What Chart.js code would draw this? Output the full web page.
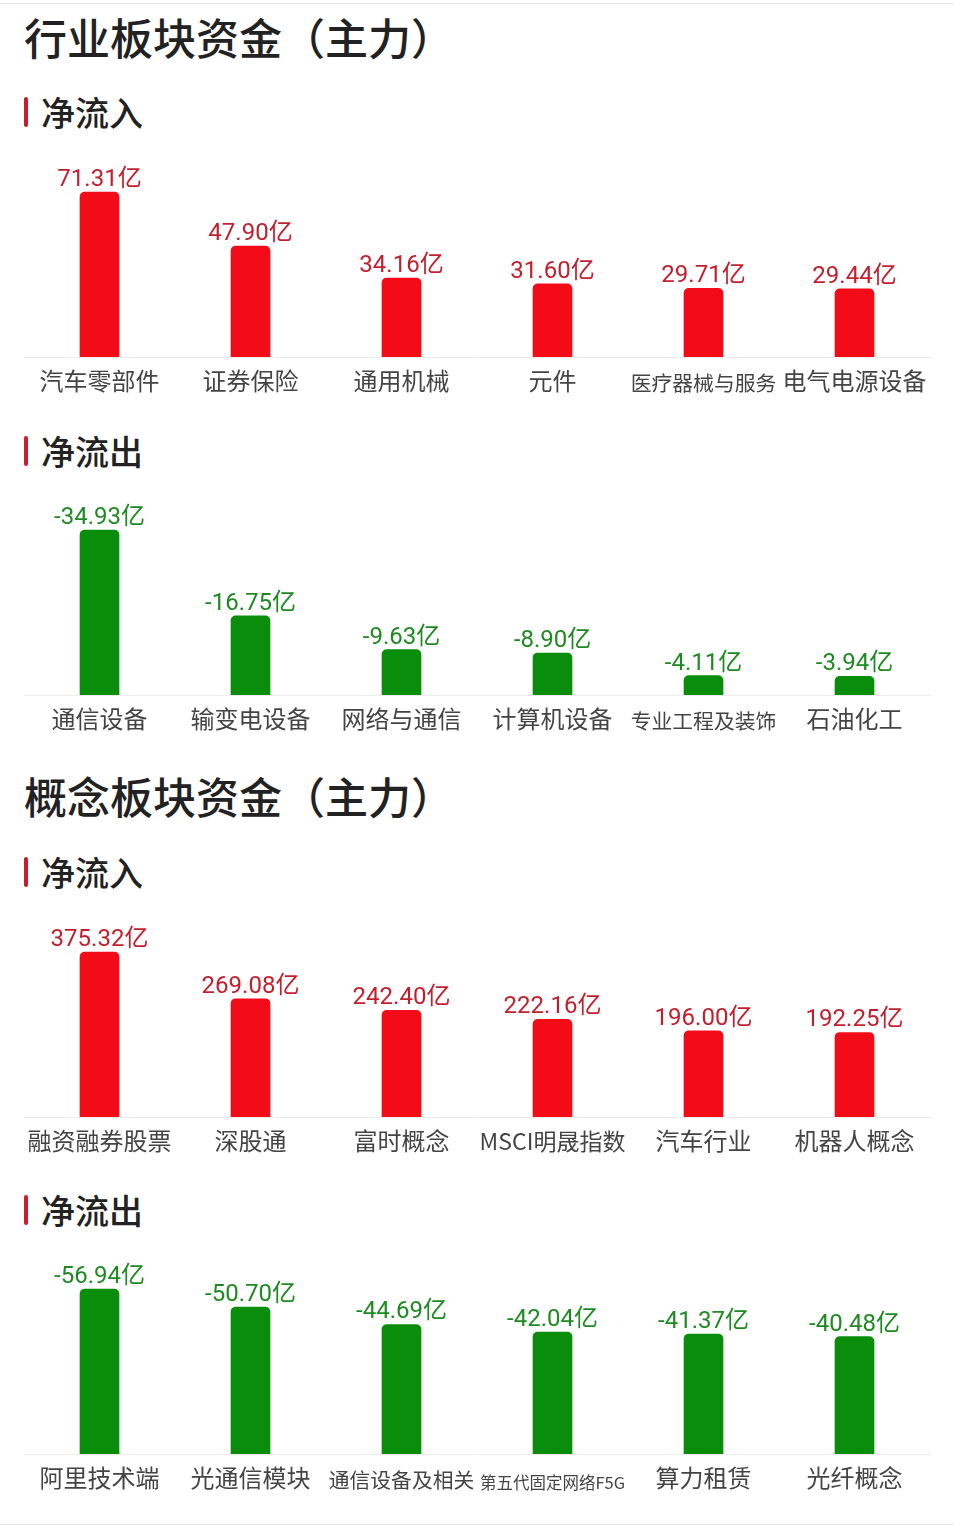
<!DOCTYPE html>
<html>
<head>
<meta charset="utf-8">
<script src="https://cdn.jsdelivr.net/npm/chart.js@4.4.1/dist/chart.umd.min.js"></script>
<style>
  body { margin: 0; width: 954px; height: 1532px; background: #fff; overflow: hidden; position: relative;
         font-family: "Noto Sans CJK SC", sans-serif; color: #222; }
  .line { position: absolute; left: 0; width: 954px; height: 1px; background: #e6e6e6; }
  .title { position: absolute; left: 24px; font-size: 43px; line-height: 52px; font-weight: 500; margin: 0; white-space: nowrap; }
  .sub { position: absolute; left: 24px; height: 36px; }
  .sub i { position: absolute; left: 0; top: 3px; width: 4px; height: 30px; background: #d3192b; border-radius: 2px; }
  .sub span { position: absolute; left: 17px; top: -1px; font-size: 34px; line-height: 38px; font-weight: 500; white-space: nowrap; }
  .box { position: absolute; left: 0; width: 954px; height: 260px; }
</style>
</head>
<body>
<div class="line" style="top:3px"></div>
<h1 class="title" style="top:10px">行业板块资金（主力）</h1>
<div class="sub" style="top:94px"><i></i><span>净流入</span></div>
<div class="box" style="top:142px"><canvas id="c1"></canvas></div>
<div class="sub" style="top:433px"><i></i><span>净流出</span></div>
<div class="box" style="top:480px"><canvas id="c2"></canvas></div>
<h1 class="title" style="top:769px">概念板块资金（主力）</h1>
<div class="sub" style="top:854px"><i></i><span>净流入</span></div>
<div class="box" style="top:902px"><canvas id="c3"></canvas></div>
<div class="sub" style="top:1192px"><i></i><span>净流出</span></div>
<div class="box" style="top:1239px"><canvas id="c4"></canvas></div>
<div class="line" style="top:1524px"></div>

<script>
// 行业板块 净流入 / 净流出 (亿)
const industryInLabels = ['汽车零部件', '证券保险', '通用机械', '元件', '医疗器械与服务', '电气电源设备'];
const industryInValues = [71.31, 47.90, 34.16, 31.60, 29.71, 29.44];
const industryOutLabels = ['通信设备', '输变电设备', '网络与通信', '计算机设备', '专业工程及装饰', '石油化工'];
const industryOutValues = [-34.93, -16.75, -9.63, -8.90, -4.11, -3.94];

// 概念板块 净流入 / 净流出 (亿)
const conceptInLabels = ['融资融券股票', '深股通', '富时概念', 'MSCI明晟指数', '汽车行业', '机器人概念'];
const conceptInValues = [375.32, 269.08, 242.40, 222.16, 196.00, 192.25];
const conceptOutLabels = ['阿里技术端', '光通信模块', '通信设备及相关', '第五代固定网络F5G', '算力租赁', '光纤概念'];
const conceptOutValues = [-56.94, -50.70, -44.69, -42.04, -41.37, -40.48];

const RED = '#f40b18', RED_TXT = '#c21f2d';
const GREEN = '#0a8d0a', GREEN_TXT = '#1f8a22';
const LABEL_FONT = '"Noto Sans CJK SC", sans-serif';

// shrink long category names so they fit in the slot
const measure = document.createElement('canvas').getContext('2d');
function fitSize(text) {
    measure.font = '24px ' + LABEL_FONT;
    const w = measure.measureText(text).width;
    return w > 146 ? Math.floor(24 * 146 / w * 10) / 10 : 24;
}

const valueLabels = {
    id: 'valueLabels',
    afterDatasetsDraw(chart, args, opts) {
        const {ctx} = chart;
        const meta = chart.getDatasetMeta(0);
        const data = chart.data.datasets[0].data;
        ctx.save();
        ctx.font = '24px Roboto, "Noto Sans CJK SC"';
        ctx.fillStyle = opts.color;
        ctx.textAlign = 'center';
        ctx.textBaseline = 'alphabetic';
        meta.data.forEach((bar, i) => {
            ctx.fillText(data[i].toFixed(2) + '亿', bar.x, bar.y - 6);
        });
        ctx.restore();
    }
};

function makeChart(id, labels, values, outflow) {
    const top = Math.max(...values.map(Math.abs)) * 200 / 165; // tallest bar = 165px of a 200px area
    new Chart(document.getElementById(id), {
        type: 'bar',
        data: {
            labels: labels,
            datasets: [{
                data: values,
                backgroundColor: outflow ? GREEN : RED,
                barThickness: 39,
                borderRadius: 5,
                borderSkipped: 'start'
            }]
        },
        options: {
            responsive: true,
            maintainAspectRatio: false,
            animation: false,
            layout: { padding: { top: 15, left: 24, right: 24, bottom: 0 } },
            plugins: {
                legend: { display: false },
                tooltip: { enabled: false },
                valueLabels: { color: outflow ? GREEN_TXT : RED_TXT }
            },
            scales: {
                y: {
                    display: false,
                    reverse: outflow,
                    min: outflow ? -top : 0,
                    max: outflow ? 0 : top
                },
                x: {
                    grid: { display: false, drawTicks: false },
                    border: { display: true, color: '#ececec', width: 1 },
                    afterFit: s => { s.height = 45; },
                    ticks: {
                        padding: 24,
                        crossAlign: 'center',
                        maxRotation: 0,
                        autoSkip: false,
                        color: '#444',
                        font: c => ({ size: fitSize(labels[c.index] || ''), family: LABEL_FONT })
                    }
                }
            }
        },
        plugins: [valueLabels]
    });
}

makeChart('c1', industryInLabels, industryInValues, false);
makeChart('c2', industryOutLabels, industryOutValues, true);
makeChart('c3', conceptInLabels, conceptInValues, false);
makeChart('c4', conceptOutLabels, conceptOutValues, true);
</script>
</body>
</html>
